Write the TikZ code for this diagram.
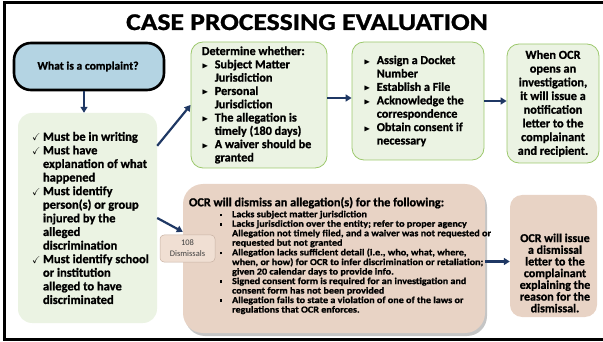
\documentclass[tikz,border=0pt]{standalone}
\usepackage{fontspec}
\usepackage{amssymb}
\setmainfont{Carlito}[BoldFeatures={FakeBold=1}]
\usetikzlibrary{arrows.meta,shadows}

\definecolor{qblue}{HTML}{B4D4E3}
\definecolor{gfill}{HTML}{EBF3E3}
\definecolor{gline}{HTML}{9CC86C}
\definecolor{bfill}{HTML}{E8D3C5}
\definecolor{tagfill}{HTML}{F0DFD3}
\definecolor{tagline}{HTML}{C8B2A4}
\definecolor{navy}{HTML}{1F3864}

\newcommand{\tri}{\makebox[13pt][l]{\scalebox{0.7}{$\blacktriangleright$}}}
\newcommand{\chk}{\makebox[11pt][l]{\scalebox{0.8}{$\checkmark$}}}
\newcommand{\sqb}{\makebox[11pt][l]{\raisebox{1pt}{\rule{2.2pt}{2.6pt}}}}

\begin{document}
\begin{tikzpicture}[x=1pt,y=-1pt,
    box/.style={inner sep=0pt},
    gbox/.style={box, draw=gline, line width=0.8pt, fill=gfill, rounded corners=12pt},
    bbox/.style={box, fill=bfill, rounded corners=12pt},
    txt/.style={inner sep=0pt, align=left, font=\fontsize{12.5}{13.6}\selectfont\bfseries},
    link/.style={draw=navy, line width=2.2pt, -{Triangle[length=6pt,width=7pt]}}]
    \useasboundingbox (0,0) rectangle (603,342);
    \clip (0,0) rectangle (603,342);
    % Frame and title
    \draw[line width=3pt] (4,2.5) rectangle (608,339);
    \node[anchor=base, font=\fontsize{24}{24}\selectfont\bfseries] (title) at (307,30) {\scalebox{1.15}[1]{CASE PROCESSING EVALUATION}};

    % Boxes
    \node[box, draw=black, line width=2.6pt, fill=qblue, rounded corners=17pt,
          minimum width=150pt, minimum height=47pt] (q) at (89,66.5) {};
    \node[box, fill=gfill, rounded corners=14pt, minimum width=139pt, minimum height=210pt] (lbox) at (87.5,218) {};
    \node[gbox, minimum width=136pt, minimum height=126pt] (det) at (259,105) {};
    \node[gbox, minimum width=132pt, minimum height=118pt] (asg) at (418,101) {};
    \node[gbox, minimum width=92pt, minimum height=119pt] (ocr) at (553,103.5) {};
    \node[bbox, rounded corners=20pt, minimum width=302pt, minimum height=149pt,
          drop shadow={shadow xshift=2pt, shadow yshift=-3pt, fill=black!45}] (dis) at (334,258.5) {};
    \node[bbox, minimum width=87pt, minimum height=122pt] (rt) at (553.5,256) {};
    \node[box, draw=tagline, line width=0.5pt, fill=tagfill, rounded corners=4pt,
          minimum width=55pt, minimum height=27pt] (tag) at (187.5,248.5) {};

    % Texts
    \node[txt, align=center, font=\fontsize{11.6}{12}\selectfont\bfseries] (qtxt) at ([xshift=-1pt]q.center) {What is a complaint?};
    \node[txt, anchor=west] (ltxt) at ([xshift=14pt]lbox.west) {\chk Must be in writing\\
        \chk Must have\\ \hspace*{11pt}explanation of what\\ \hspace*{11pt}happened\\
        \chk Must identify\\ \hspace*{11pt}person(s) or group\\ \hspace*{11pt}injured by the\\
        \hspace*{11pt}alleged\\ \hspace*{11pt}discrimination\\
        \chk Must identify school\\ \hspace*{11pt}or institution\\ \hspace*{11pt}alleged to have\\
        \hspace*{11pt}discriminated};
    \node[txt, anchor=west, font=\fontsize{12.2}{13.3}\selectfont\bfseries] (dtxt) at ([xshift=11pt]det.west) {Determine whether:\\
        \tri Subject Matter\\ \hspace*{13pt}Jurisdiction\\
        \tri Personal\\ \hspace*{13pt}Jurisdiction\\
        \tri The allegation is\\ \hspace*{13pt}timely (180 days)\\
        \tri A waiver should be\\ \hspace*{13pt}granted};
    \node[txt, anchor=west, font=\fontsize{12.1}{13.4}\selectfont\bfseries] (atxt) at ([xshift=12pt]asg.west) {\tri Assign a Docket\\ \hspace*{13pt}Number\\
        \tri Establish a File\\
        \tri Acknowledge the\\ \hspace*{13pt}correspondence\\
        \tri Obtain consent if\\ \hspace*{13pt}necessary};
    \node[txt, align=center, font=\fontsize{12.3}{13.7}\selectfont\bfseries] (otxt) at (ocr.center) {When OCR\\ opens an\\ investigation,\\ it will issue a\\
        notification\\ letter to the\\ complainant\\ and recipient.};
    \node[txt, anchor=west, font=\fontsize{12.3}{13}\selectfont\bfseries] (dhead) at ([xshift=6pt,yshift=-19pt]dis.north west) {OCR will dismiss an allegation(s) for the following:};
    \node[txt, anchor=west, font=\fontsize{9.2}{9.5}\selectfont\bfseries] (dlist) at ([xshift=37pt,yshift=-4.5pt]dis.west) {\scalebox{1.1}[1]{\begin{tabular}{@{}l@{}}
        \sqb Lacks subject matter jurisdiction\\
        \sqb Lacks jurisdiction over the entity; refer to proper agency\\
        \hspace*{11pt}Allegation not timely filed, and a waiver was not requested or\\
        \hspace*{11pt}requested but not granted\\
        \sqb Allegation lacks sufficient detail (i.e., who, what, where,\\
        \hspace*{11pt}when, or how) for OCR to infer discrimination  or retaliation;\\
        \hspace*{11pt}given 20 calendar days to provide info.\\
        \sqb Signed consent form is required for an investigation  and\\
        \hspace*{11pt}consent form has not been provided\\
        \sqb Allegation fails to state a violation of one of the laws or\\
        \hspace*{11pt}regulations that OCR enforces.
        \end{tabular}}};
    \node[txt, align=center, font=\fontsize{12}{11.7}\selectfont\bfseries] (rtxt) at ([xshift=1.5pt,yshift=-17pt]rt.center) {OCR will issue\\ a dismissal\\ letter to the\\
        complainant\\ explaining the\\ reason for the\\ dismissal.};
    \node[txt, align=center, text=black!75, font=\fontsize{8.5}{11}\selectfont] (ttxt) at (tag.center) {108\\ Dismissals};

    % Arrows
    \draw[link] ([xshift=-5pt]q.south) -- ([xshift=-5pt]q.south |- lbox.north);
    \draw[link] (lbox.46) -- (det.west);
    \draw[link] (lbox.east) -- (dis.170);
    \draw[link] ([yshift=7pt]det.east) -- ([yshift=7pt]det.east -| asg.west);
    \draw[link] (asg.east) -- (asg.east -| ocr.west);
    \draw[link] ([yshift=-3pt]dis.east) -- ([yshift=-3pt]dis.east -| rt.west);
\end{tikzpicture}
\end{document}
